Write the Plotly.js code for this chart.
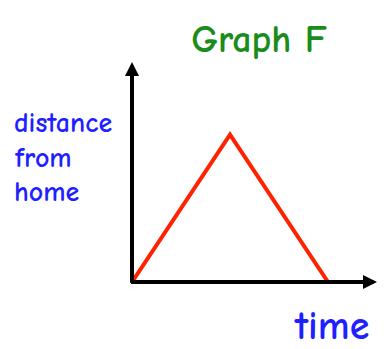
<!DOCTYPE html>
<html>
<head>
<meta charset="utf-8">
<script src="https://cdn.plot.ly/plotly-3.0.1.min.js"></script>
<style>html,body{margin:0;padding:0;background:#fff;}#chart{width:389px;height:349px;}</style>
</head>
<body>
<div id="chart"></div>
<script>
// Data
const time = [0, 4, 8];
const distance = [0, 6.7, 0];
const chartTitle = "<b>Graph F</b>";
const yLabelLines = ["<b>distance</b>", "<b>from</b>", "<b>home</b>"];
const xLabel = "<b>time</b>";

const FONT = "Comic Sans MS, Comic Neue, Noto Sans, sans-serif";
const BLUE = "#1f1fff";

const trace = {
  x: time, y: distance, type: "scatter", mode: "lines",
  line: {color: "#ff2200", width: 4},
  cliponaxis: false, hoverinfo: "skip"
};

const annotations = [
  // y axis arrow
  {x: 0, y: 10, ax: 0, ay: -0.1, xref: "x", yref: "y", axref: "x", ayref: "y",
   showarrow: true, arrowhead: 2, arrowsize: 0.7, arrowwidth: 4, arrowcolor: "#000", text: ""},
  // x axis arrow
  {x: 10, y: 0, ax: -0.1, ay: 0, xref: "x", yref: "y", axref: "x", ayref: "y",
   showarrow: true, arrowhead: 2, arrowsize: 0.7, arrowwidth: 4, arrowcolor: "#000", text: ""},
  {text: xLabel, xref: "paper", yref: "paper", x: 0.975, y: -0.2, xanchor: "right", yanchor: "middle",
   showarrow: false, font: {family: FONT, size: 40, color: BLUE}}
];
const lineY = [0.723, 0.564, 0.409];
yLabelLines.forEach((t, i) => {
  annotations.push({text: t, xref: "paper", yref: "paper", x: -0.49, y: lineY[i],
    xanchor: "left", yanchor: "middle", showarrow: false,
    font: {family: FONT, size: 28, color: BLUE}});
});

const layout = {
  width: 389, height: 349,
  margin: {l: 132, r: 12, t: 62, b: 67},
  paper_bgcolor: "#fff", plot_bgcolor: "#fff",
  showlegend: false,
  title: {text: chartTitle, x: 0.666, xanchor: "center", y: 0.888, yanchor: "middle",
    font: {family: FONT, size: 38, color: "#1a8c1a"}},
  xaxis: {range: [0, 10], showgrid: false, zeroline: false, showticklabels: false, ticks: "", showline: false, fixedrange: true},
  yaxis: {range: [0, 10], showgrid: false, zeroline: false, showticklabels: false, ticks: "", showline: false, fixedrange: true},
  annotations: annotations
};

Plotly.newPlot("chart", [trace], layout, {staticPlot: true, displayModeBar: false});
</script>
</body>
</html>
